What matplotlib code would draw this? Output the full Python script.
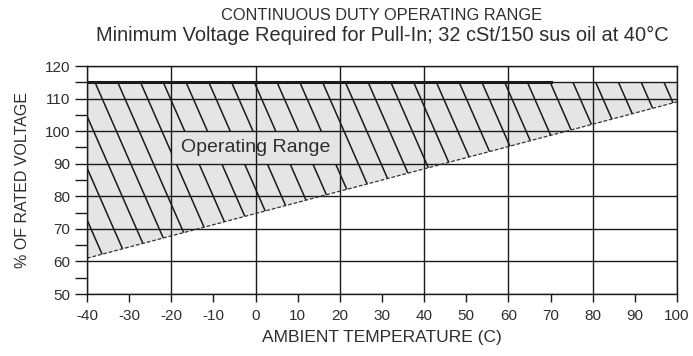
import numpy as np
import matplotlib.pyplot as plt
from matplotlib.patches import Polygon, Rectangle

plt.rcParams['font.family'] = ['Liberation Sans', 'DejaVu Sans']

# minimum pull-in voltage line and the upper limit of the operating range
temp_min = [-40, 100]
volt_min = [61, 109]
volt_max = 115
thick_max_end = 70

x_ticks = list(range(-40, 101, 10))
x_grid = list(range(-40, 101, 20))
y_ticks = list(range(50, 121, 10))
y_minor = list(range(55, 121, 10))

ink = '#1a1a1a'
text_c = '#2e2e2e'
shade = '#e5e5e5'

fig = plt.figure(figsize=(6.93, 3.56), dpi=100)
ax = fig.add_axes([0.1255, 0.174, 0.8515, 0.6406])
ax.set_xlim(-40, 100)
ax.set_ylim(50, 120)

# shaded operating region
region = Polygon([(temp_min[0], volt_min[0]), (temp_min[1], volt_min[1]),
                  (temp_min[1], volt_max), (temp_min[0], volt_max)],
                 closed=True, facecolor=shade, edgecolor='none', zorder=1)
ax.add_patch(region)

# steep diagonal hatching clipped to the region
slope = -2.95
spacing = 5.4
for x0 in np.arange(-38.1 - 8 * spacing, 100, spacing):
    xs = np.array([x0, x0 + 30])
    ys = volt_max + slope * (xs - x0)
    ln, = ax.plot(xs, ys, color=ink, lw=1.1, zorder=1.5)
    ln.set_clip_path(region)

# clear cell behind the label
ax.add_patch(Rectangle((-20, 90), 40, 10, facecolor=shade, edgecolor='none', zorder=1.8))
ax.text(0, 95, 'Operating Range', ha='center', va='center', fontsize=14,
        color=text_c, zorder=3)

# grid
for gx in x_grid:
    ax.axvline(gx, color=ink, lw=1.0, zorder=2)
for gy in y_ticks:
    ax.axhline(gy, color=ink, lw=1.0, zorder=2)

# region boundaries
ax.plot(temp_min, volt_min, color='#333333', lw=0.9, ls=(0, (3, 1.5)), zorder=2.5)
ax.plot([-40, thick_max_end], [volt_max, volt_max], color=ink, lw=2.2, zorder=2.5)
ax.plot([thick_max_end, 100], [volt_max, volt_max], color=ink, lw=1.0, zorder=2.5)

for s in ax.spines.values():
    s.set_color(ink)
    s.set_linewidth(1.0)

ax.set_xticks(x_ticks)
ax.set_xticklabels([str(v) for v in x_ticks])
ax.set_yticks(y_ticks)
ax.set_yticks(y_minor, minor=True)
ax.tick_params(axis='both', which='both', direction='out', color=ink, width=1.0,
               labelsize=11, labelcolor=text_c)
ax.tick_params(axis='y', which='both', length=9, pad=3)
ax.tick_params(axis='x', which='both', length=6, pad=5)

ax.set_xlabel('AMBIENT TEMPERATURE (C)', fontsize=12.5, color=text_c, labelpad=5)
ax.set_ylabel('% OF RATED VOLTAGE', fontsize=11.5, color=text_c, labelpad=11)

fig.text(0.551, 0.956, 'CONTINUOUS DUTY OPERATING RANGE', ha='center', va='center',
         fontsize=11.8, color=text_c)
fig.text(0.551, 0.899, 'Minimum Voltage Required for Pull-In; 32 cSt/150 sus oil at 40°C',
         ha='center', va='center', fontsize=14.4, color=text_c)

fig.savefig('out.png', dpi=100)
